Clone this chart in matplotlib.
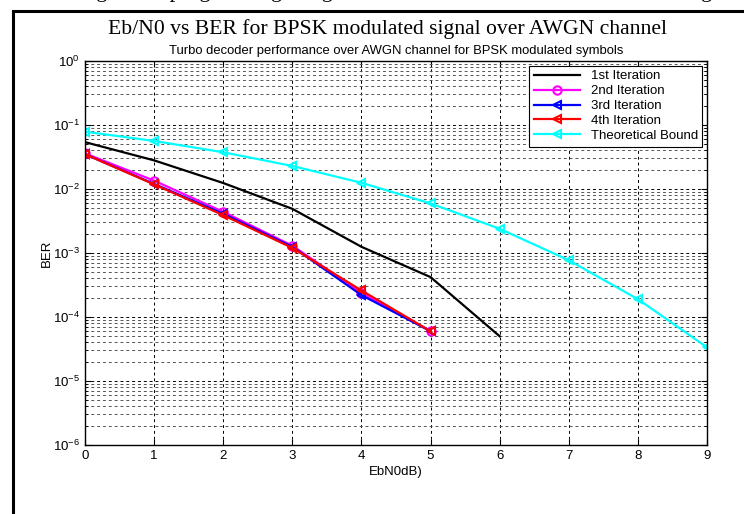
import numpy as np
import matplotlib
matplotlib.use("Agg")
import matplotlib.pyplot as plt
from matplotlib.patches import Rectangle

# Data
ebn0_db = [0, 1, 2, 3, 4, 5, 6, 7, 8, 9]
ebn0_iter = [0, 1, 2, 3, 4, 5]
ber_iter1 = [0.054, 0.028, 0.0124, 0.0049, 0.00125, 0.00042, 0.00005]
ber_iter2 = [0.036, 0.0135, 0.0044, 0.0013, 0.00024, 0.00006]
ber_iter3 = [0.035, 0.012, 0.0041, 0.00125, 0.00022, 0.00006]
ber_iter4 = [0.035, 0.0118, 0.0039, 0.0012, 0.00026, 0.00006]
ber_theory = [0.0786, 0.0563, 0.0375, 0.0229, 0.0125, 0.00595, 0.00239, 0.00077, 0.00019, 0.0000336]

plt.rcParams["font.family"] = ["Liberation Sans", "DejaVu Sans"]
plt.rcParams["mathtext.fontset"] = "custom"
plt.rcParams["mathtext.rm"] = "Liberation Sans"
plt.rcParams["mathtext.default"] = "regular"

fig = plt.figure(figsize=(7.44, 5.14), dpi=100)

# page text cut at the top + the figure frame
fig.text(0.5, 1.014, "showing as the program is getting iterated more times the error is decreasing",
         ha="center", va="center", fontsize=16, family="Liberation Serif")
fig.patches.append(Rectangle((13 / 744, -0.1), 1.2, 1 - 11 / 514 + 0.1, transform=fig.transFigure,
                             fill=False, edgecolor="black", linewidth=2.2))

ax = fig.add_axes([85 / 744, 1 - 445 / 514, 622 / 744, 384 / 514])
ax.set_yscale("log")

ax.plot(ebn0_db[:7], ber_iter1, color="black", lw=1.6, label="1st Iteration")
ax.plot(ebn0_iter, ber_iter2, color="magenta", lw=1.6, marker="o", ms=6, mfc="none", mew=1.5,
        label="2nd Iteration")
ax.plot(ebn0_iter, ber_iter3, color="blue", lw=1.6, marker="<", ms=6, mfc="none", mew=1.5,
        label="3rd Iteration")
ax.plot(ebn0_iter, ber_iter4, color="red", lw=1.6, marker="<", ms=6, mfc="none", mew=1.5,
        label="4th Iteration")
ax.plot(ebn0_db, ber_theory, color="cyan", lw=1.6, marker="<", ms=6, mfc="none", mew=1.5,
        label="Theoretical Bound")

ax.set_xlim(0, 9)
ax.set_ylim(1e-6, 1)
ax.set_xticks(ebn0_db)
ax.grid(True, which="major", color="black", linestyle=(0, (3, 3)), linewidth=0.7)
ax.grid(True, which="minor", axis="y", color="#555555", linestyle=(0, (3, 3)), linewidth=0.7)
ax.tick_params(which="both", direction="in", labelsize=9.5, top=True, right=True)
ax.tick_params(which="major", length=4)
ax.tick_params(which="minor", length=2)
for s in ax.spines.values():
    s.set_linewidth(1.0)

ax.set_xlabel("EbN0dB)", fontsize=9.5, labelpad=3)
ax.set_ylabel("BER", fontsize=9.5, labelpad=0)
ax.set_title("Turbo decoder performance over AWGN channel for BPSK modulated symbols",
             fontsize=9.4, pad=5)
fig.text(388 / 744, 1 - 29 / 514, "Eb/N0 vs BER for BPSK modulated signal over AWGN channel",
         ha="center", va="center", fontsize=15.6, family="Liberation Serif")

leg = ax.legend(loc="upper right", fontsize=9.5, fancybox=False, edgecolor="black",
                framealpha=1, borderaxespad=0.35, handlelength=3.5, labelspacing=0.2,
                borderpad=0.35)
leg.get_frame().set_linewidth(0.8)

fig.savefig("out.png", dpi=100)
